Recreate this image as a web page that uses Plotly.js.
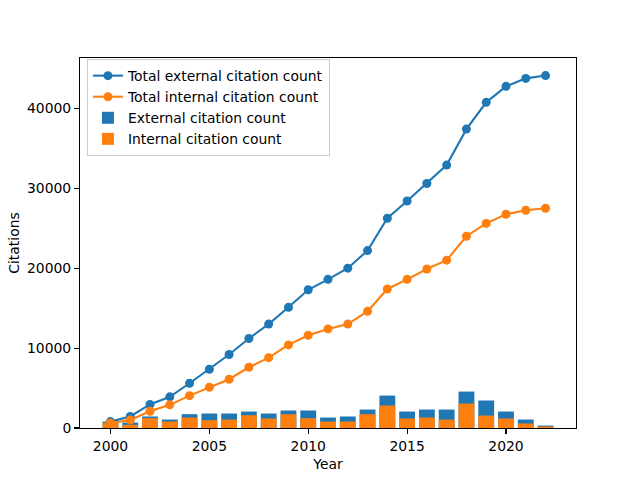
<!DOCTYPE html>
<html>
<head>
<meta charset="utf-8">
<script src="https://cdn.plot.ly/plotly-3.0.1.min.js"></script>
<style>html,body{margin:0;padding:0;background:#fff;}#chart{width:640px;height:480px;}</style>
</head>
<body>
<div id="chart"></div>
<script>
const years = [2000,2001,2002,2003,2004,2005,2006,2007,2008,2009,2010,2011,2012,2013,2014,2015,2016,2017,2018,2019,2020,2021,2022];
const totalExternal = [800,1450,2950,3900,5600,7350,9200,11200,13000,15100,17300,18600,20000,22200,26250,28400,30600,32900,37400,40750,42750,43750,44100];
const totalInternal = [620,1000,2100,2900,4050,5100,6100,7600,8800,10400,11600,12400,13000,14600,17400,18600,19900,21000,24000,25600,26750,27250,27500];
const externalCount = [800,690,1440,1060,1730,1810,1810,2060,1810,2190,2190,1310,1440,2310,4060,2060,2310,2310,4560,3440,2060,1060,310];
const internalCount = [650,400,1230,810,1310,980,1060,1600,1190,1730,1230,810,810,1730,2810,1190,1310,1060,3060,1560,1190,560,190];

const blue = '#1f77b4', orange = '#ff7f0e';
const font = {family: 'DejaVu Sans, sans-serif', size: 13.9, color: '#000'};

const traces = [
  {type:'scatter', mode:'lines+markers', name:'Total external citation count', x: years, y: totalExternal,
   line:{color:blue, width:2.1}, marker:{color:blue, size:9}},
  {type:'scatter', mode:'lines+markers', name:'Total internal citation count', x: years, y: totalInternal,
   line:{color:orange, width:2.1}, marker:{color:orange, size:9}},
  {type:'bar', name:'External citation count', x: years, y: externalCount, width:0.8,
   marker:{color:blue, line:{width:0}}},
  {type:'bar', name:'Internal citation count', x: years, y: internalCount, width:0.8,
   marker:{color:orange, line:{width:0}}}
];

const axisCommon = {showgrid:false, zeroline:false, showline:true, linecolor:'#000', linewidth:1.1, mirror:true,
  ticks:'outside', ticklen:4.9, tickwidth:1.1, tickcolor:'#000', tickfont:font};

const layout = {
  width:640, height:480, paper_bgcolor:'#fff', plot_bgcolor:'#fff', font: font,
  margin:{l:80, r:64, t:58, b:52},
  barmode:'overlay', showlegend:true,
  xaxis: Object.assign({}, axisCommon, {range:[1998.46, 2023.54], tickmode:'linear', tick0:2000, dtick:5,
    title:{text:'Year', font:font, standoff:6}}),
  yaxis: Object.assign({}, axisCommon, {range:[0, 46300], tickmode:'linear', tick0:0, dtick:10000, tickformat:'d',
    title:{text:'Citations', font:font, standoff:4}}),
  legend:{x:0.014, y:0.997, xanchor:'left', yanchor:'top', bgcolor:'rgba(255,255,255,0.8)',
    bordercolor:'#cccccc', borderwidth:1, font:font, tracegroupgap:0, itemwidth:30}
};

Plotly.newPlot('chart', traces, layout, {staticPlot:true, displayModeBar:false});
</script>
</body>
</html>
